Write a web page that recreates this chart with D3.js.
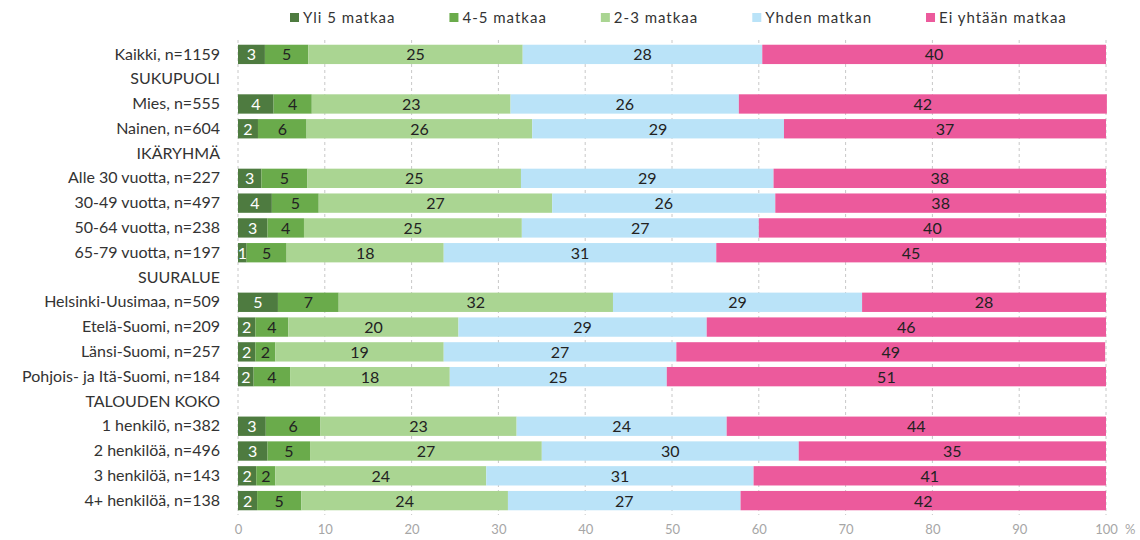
<!DOCTYPE html>
<html>
<head>
<meta charset="utf-8">
<script src="https://cdn.jsdelivr.net/npm/d3@7"></script>
<style>
  body { margin: 0; background: #fff; }
  text { font-family: Lato, "Open Sans", sans-serif; }
</style>
</head>
<body>
<div id="chart-area"></div>
<script>
// Matkojen määrä, %
var categories = [
    "Kaikki, n=1159", "SUKUPUOLI", "Mies, n=555", "Nainen, n=604",
    "IKÄRYHMÄ", "Alle 30 vuotta, n=227", "30-49 vuotta, n=497", "50-64 vuotta, n=238", "65-79 vuotta, n=197",
    "SUURALUE", "Helsinki-Uusimaa, n=509", "Etelä-Suomi, n=209", "Länsi-Suomi, n=257", "Pohjois- ja Itä-Suomi, n=184",
    "TALOUDEN KOKO", "1 henkilö, n=382", "2 henkilöä, n=496", "3 henkilöä, n=143", "4+ henkilöä, n=138"
];
var seriesNames = ["Yli 5 matkaa", "4-5 matkaa", "2-3 matkaa", "Yhden matkan", "Ei yhtään matkaa"];
var yli5  = [3.1, null, 4.1, 2.3, null, 2.7, 3.9, 3.4, 1.0, null, 4.6, 2.0, 2.0, 1.8, null, 3.2, 3.4, 2.1, 2.2];
var m45   = [5.0, null, 4.4, 5.6, null, 5.3, 5.4, 4.2, 4.6, null, 7.0, 3.8, 2.3, 4.2, null, 6.3, 4.9, 2.2, 5.1];
var m23   = [24.7, null, 22.9, 26.0, null, 24.6, 26.9, 25.1, 18.1, null, 31.6, 19.6, 19.4, 18.4, null, 22.6, 26.7, 24.3, 23.8];
var yksi  = [27.6, null, 26.3, 29.0, null, 29.1, 25.7, 27.3, 31.4, null, 28.7, 28.6, 26.8, 25.0, null, 24.2, 29.6, 30.8, 26.8];
var eiYht = [39.6, null, 42.4, 37.1, null, 38.3, 38.1, 40.0, 44.9, null, 28.1, 46.0, 49.4, 50.6, null, 43.7, 35.4, 40.6, 42.1];
var xTicks = [0, 10, 20, 30, 40, 50, 60, 70, 80, 90, 100];

var colors = ["#4e7b40", "#6aab4b", "#aad592", "#bae3f8", "#ec5a9c"];
var labelColors = ["#fff", "#222", "#222", "#222", "#222"];

var width = 1140, height = 540;
var margin = { left: 238, right: 34, top: 42, bottom: 27 };

var svg = d3.select("#chart-area")
    .append("svg")
    .attr("width", width)
    .attr("height", height);

// Build table for the stack
var allSeries = [yli5, m45, m23, yksi, eiYht];
var table = categories.map(function(c, i) {
    var row = { cat: c, header: yli5[i] === null };
    seriesNames.forEach(function(s, k) { row[s] = allSeries[k][i] || 0; });
    return row;
});

// Scales
var x = d3.scaleLinear().domain([0, 100]).range([margin.left, width - margin.right]);
var y = d3.scaleBand().domain(categories)
    .range([margin.top, height - margin.bottom])
    .paddingInner(0.22).paddingOuter(0.11);

// Gridlines
svg.append("g")
    .selectAll("line")
    .data(xTicks)
    .enter().append("line")
    .attr("x1", function(d){ return x(d); })
    .attr("x2", function(d){ return x(d); })
    .attr("y1", margin.top - 2)
    .attr("y2", height - margin.bottom + 2)
    .attr("stroke", "#c8c8c8")
    .attr("stroke-width", 1)
    .attr("stroke-dasharray", "3,3");

// Bars
var stack = d3.stack().keys(seriesNames);
var stacked = stack(table.filter(function(d){ return !d.header; }));

var layers = svg.append("g")
    .selectAll("g")
    .data(stacked)
    .enter().append("g")
    .attr("fill", function(d, i){ return colors[i]; });

layers.selectAll("rect")
    .data(function(d){ return d; })
    .enter().append("rect")
    .attr("x", function(d){ return x(d[0]); })
    .attr("y", function(d){ return y(d.data.cat); })
    .attr("width", function(d){ return x(d[1]) - x(d[0]); })
    .attr("height", y.bandwidth());

layers.selectAll("text")
    .data(function(d, i){ return d.map(function(p){ return { p: p, i: i }; }); })
    .enter().append("text")
    .attr("x", function(d){ return (x(d.p[0]) + x(d.p[1])) / 2; })
    .attr("y", function(d){ return y(d.p.data.cat) + y.bandwidth() / 2; })
    .attr("dy", "0.37em")
    .attr("text-anchor", "middle")
    .attr("font-size", "16px")
    .attr("fill", function(d){ return labelColors[d.i]; })
    .text(function(d){ return Math.round(d.p[1] - d.p[0]); });

// Category labels
var yAxisCall = d3.axisLeft(y).tickSize(0).tickPadding(18);
var yAxis = svg.append("g")
    .attr("transform", "translate(" + margin.left + ",0)")
    .call(yAxisCall);
yAxis.select(".domain").remove();
yAxis.selectAll("text")
    .attr("font-size", "16px")
    .attr("fill", "#333")
    .style("font-family", "Lato, sans-serif");

// X-axis
var xAxisCall = d3.axisBottom(x).tickValues(xTicks).tickSize(0).tickPadding(11);
var xAxis = svg.append("g")
    .attr("transform", "translate(0," + (height - margin.bottom + 1) + ")")
    .call(xAxisCall);
xAxis.select(".domain").remove();
xAxis.selectAll("text")
    .attr("font-size", "13px")
    .attr("fill", "#a6a6a6")
    .style("font-family", "Lato, sans-serif");

svg.append("text")
    .attr("x", x(100) + 19)
    .attr("y", height - margin.bottom + 12)
    .attr("dy", "0.71em")
    .attr("font-size", "13px")
    .attr("fill", "#a6a6a6")
    .text("%");

// Legend
var legend = svg.append("g").attr("transform", "translate(0,18)");
var items = legend.selectAll("g")
    .data(seriesNames)
    .enter().append("g");
items.append("rect")
    .attr("width", 9).attr("height", 9)
    .attr("y", -5)
    .attr("fill", function(d, i){ return colors[i]; });
items.append("text")
    .attr("x", 13)
    .attr("dy", "0.35em")
    .attr("font-size", "15px")
    .attr("letter-spacing", "1px")
    .attr("fill", "#333")
    .text(function(d){ return d; });

var gap = 54, widths = [];
items.each(function(){ widths.push(this.getBBox().width); });
var pos = 290;
items.attr("transform", function(d, i){
    var t = "translate(" + pos + ",0)";
    pos += widths[i] + gap;
    return t;
});
</script>
</body>
</html>
